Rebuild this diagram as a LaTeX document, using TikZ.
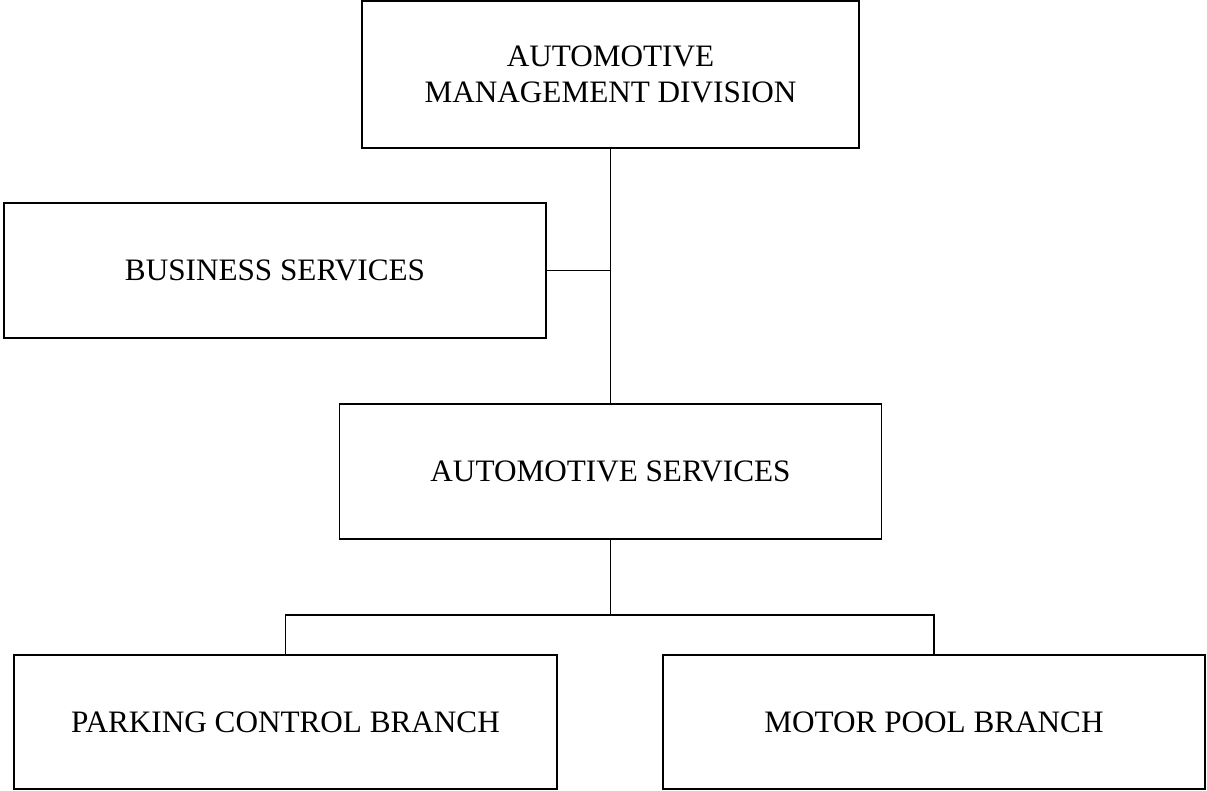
\documentclass[tikz,border=0pt]{standalone}
\usepackage{fontspec}
\setmainfont{Liberation Serif}
\usetikzlibrary{positioning, calc}

\begin{document}
\begin{tikzpicture}[
      x=1pt, y=-1pt,
      every node/.style = {
        draw, line width=1.5pt, align=center,
        inner sep=0pt, font=\fontsize{31.2}{36}\selectfont
      },
      unitbox/.style = {minimum width=542pt, minimum height=135pt},
      link/.style    = {line width=1.4pt},
    ]
    \useasboundingbox (0,0) rectangle (1207,791);
    %% ── Nodos ──────────────────────────────────────────────────
    \node (amd) [minimum width=497pt, minimum height=147pt] at (610.5,74.5) {
      AUTOMOTIVE\\
      MANAGEMENT DIVISION
    };
    \node (bus)   [unitbox] at (275,270.5)   {BUSINESS SERVICES};
    \node (autos) [unitbox] at (610.5,471.5) {AUTOMOTIVE SERVICES};
    \node (park)  [unitbox, minimum width=543pt, minimum height=134pt]
      at (285.5,722) {PARKING CONTROL BRANCH};
    \node (pool)  [unitbox, minimum height=134pt]
      at (934,722) {MOTOR POOL BRANCH};
    \coordinate (fork) at (610.5,615);
    %% ── Lineas ─────────────────────────────────────────────────
    \draw[link] (amd.south) -- (autos.north);
    \draw[link] (bus.east) -- (bus.east -| amd.south);
    \draw[link] (autos.south) -- (fork);
    \draw[link] (park.north) |- (fork) -| (pool.north);
  \end{tikzpicture}
\end{document}
